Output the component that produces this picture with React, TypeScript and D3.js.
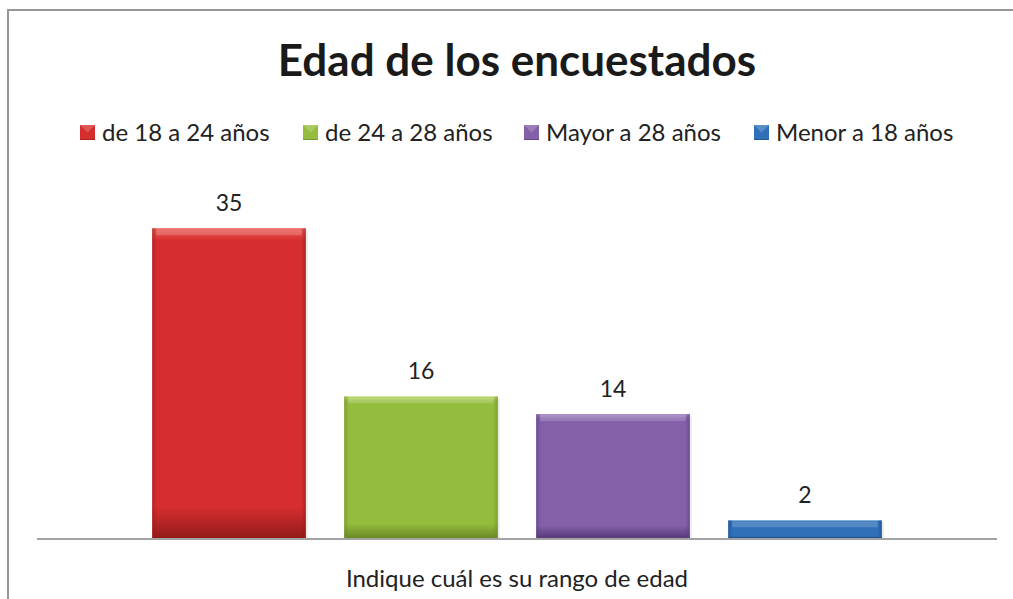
import React, { useEffect } from "react";
import * as d3 from "d3";

// chart data
const categoryLabel = "Indique cuál es su rango de edad";
const series = ["de 18 a 24 años", "de 24  a 28 años", "Mayor a 28 años", "Menor a 18 años"];
const values = [35, 16, 14, 2];
const mainColors = ["#D62E2E", "#94BC3D", "#8460A9", "#2F70B8"];
const lightColors = ["#EC5A55", "#B5D865", "#A285C4", "#5A97D6"];
const darkColors = ["#931A1A", "#6A8A26", "#57397A", "#1D4B82"];

const W = 1013;
const H = 599;
const font = "Lato, 'Open Sans', sans-serif";

export default function App() {
  useEffect(() => {
    document.body.style.margin = "0";
  }, []);

  const x = d3.scaleBand<string>().domain(series).range([37, 997]).paddingInner(0.2).paddingOuter(0.6);
  const y = d3.scaleLinear().domain([0, 40]).range([538, 184]);

  // legend layout
  const legendX = [80, 303, 524, 754];

  return (
    <svg width={W} height={H} style={{ display: "block", position: "fixed", left: 0, top: 0, background: "#fff" }}>
      <defs>
        {series.map((s, i) => (
          <linearGradient key={s} id={"g" + i} x1="0" y1="0" x2="0" y2="1">
            <stop offset="0" stopColor={lightColors[i]} />
            <stop offset="0.04" stopColor={mainColors[i]} />
            <stop offset="0.9" stopColor={mainColors[i]} />
            <stop offset="1" stopColor={darkColors[i]} />
          </linearGradient>
        ))}
        {series.map((s, i) => (
          <linearGradient key={s} id={"h" + i} x1="0" y1="0" x2="1" y2="0">
            <stop offset="0" stopColor={darkColors[i]} stopOpacity={0.55} />
            <stop offset="0.03" stopColor={darkColors[i]} stopOpacity={0} />
            <stop offset="0.97" stopColor={darkColors[i]} stopOpacity={0} />
            <stop offset="1" stopColor={darkColors[i]} stopOpacity={0.55} />
          </linearGradient>
        ))}
      </defs>
      {/* frame */}
      <path d={`M8,${H} V10 H${W}`} fill="none" stroke="#95959a" strokeWidth={2} />

      <text x={517} y={76} textAnchor="middle" fontFamily={font} fontWeight="bold" fontSize={44} fill="#1a1a1a">
        Edad de los encuestados
      </text>

      {series.map((s, i) => (
        <g key={s} transform={`translate(${legendX[i]},133)`}>
          <rect x={0} y={-8} width={15} height={15} fill={`url(#g${i})`} />
          <rect x={0} y={-8} width={15} height={15} fill={`url(#h${i})`} />
          <path d="M0,-8 L7.5,-0.5 L15,-8 Z" fill="#fff" opacity={0.2} />
          <text x={22} y={8} fontFamily={font} fontSize={24} fill="#222">
            {s}
          </text>
        </g>
      ))}

      {series.map((s, i) => {
        const bx = x(s)!;
        const bw = x.bandwidth();
        const top = y(values[i]);
        const bh = y(0) - top;
        return (
          <g key={s}>
            <rect x={bx + 2} y={top + 2} width={bw} height={bh} fill="#000" opacity={0.08} />
            <rect x={bx} y={top} width={bw} height={bh} fill={`url(#g${i})`} />
            <rect x={bx} y={top} width={bw} height={bh} fill={`url(#h${i})`} />
            <rect x={bx + 4} y={top + 1} width={bw - 8} height={Math.min(6, bh / 3)} fill="#fff" opacity={0.18} />
            <text x={bx + bw / 2} y={top - 17} textAnchor="middle" fontFamily={font} fontSize={23} fill="#222">
              {values[i]}
            </text>
          </g>
        );
      })}

      <line x1={37} x2={997} y1={y(0) + 1} y2={y(0) + 1} stroke="#a3a3a3" strokeWidth={2} />

      <text x={517} y={587} textAnchor="middle" fontFamily={font} fontSize={24} fill="#222">
        {categoryLabel}
      </text>
    </svg>
  );
}
